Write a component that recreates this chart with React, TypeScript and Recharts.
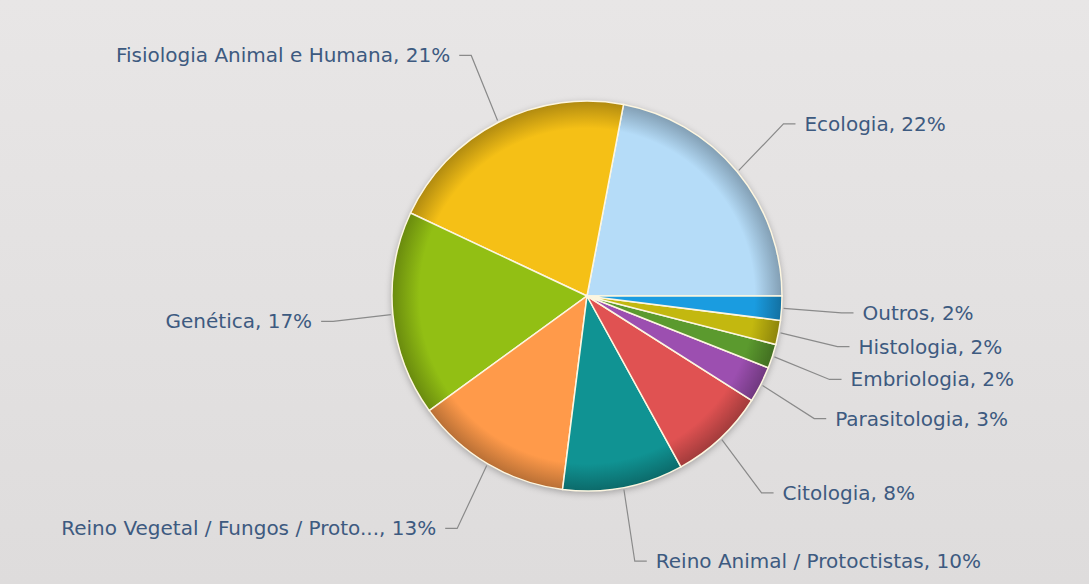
import React from "react";
import { PieChart, Pie, Cell } from "recharts";

const subjects = [
  "Ecologia",
  "Fisiologia Animal e Humana",
  "Genética",
  "Reino Vegetal / Fungos / Proto...",
  "Reino Animal / Protoctistas",
  "Citologia",
  "Parasitologia",
  "Embriologia",
  "Histologia",
  "Outros",
];

const shares = [22, 21, 17, 13, 10, 8, 3, 2, 2, 2];

const sliceColors = [
  "#b5dcf8",
  "#f5c016",
  "#92bf14",
  "#ff9a4a",
  "#109393",
  "#e05252",
  "#9c4fb0",
  "#5b9a2e",
  "#c3b80f",
  "#1a9ce0",
];

const data = subjects.map((name, i) => ({ name, value: shares[i] }));

const W = 1089;
const H = 584;
const CX = 587;
const CY = 296;
const R = 195;
const RAD = Math.PI / 180;

// darken a hex colour by a factor
function shade(hex: string, f: number) {
  const n = parseInt(hex.slice(1), 16);
  const r = Math.round(((n >> 16) & 255) * f);
  const g = Math.round(((n >> 8) & 255) * f);
  const b = Math.round((n & 255) * f);
  return `rgb(${r},${g},${b})`;
}

const renderLabel = (props: any) => {
  const { cx, cy, midAngle, outerRadius, name, value } = props;
  const cos = Math.cos(-midAngle * RAD);
  const sin = Math.sin(-midAngle * RAD);
  const sx = cx + (outerRadius + 2) * cos;
  const sy = cy + (outerRadius + 2) * sin;
  const ex = cx + (outerRadius + 60) * cos;
  const ey = cy + (outerRadius + 75) * sin;
  const right = cos >= 0;
  const tx = ex + (right ? 12 : -12);
  return (
    <g>
      <polyline
        points={`${sx},${sy} ${ex},${ey} ${tx},${ey}`}
        fill="none"
        stroke="#8a8a8a"
        strokeWidth={1.2}
      />
      <text
        x={tx + (right ? 9 : -9)}
        y={ey}
        textAnchor={right ? "start" : "end"}
        dominantBaseline="central"
        fill="#3d5a80"
        fontSize={20}
        fontFamily="DejaVu Sans, sans-serif"
      >
        {`${name}, ${value}%`}
      </text>
    </g>
  );
};

export default function App() {
  return (
    <div
      style={{
        position: "absolute",
        left: 0,
        top: 0,
        width: W,
        height: H,
        background: "linear-gradient(#e8e6e6, #dedcdc)",
      }}
    >
      <style>{`.recharts-pie > g:first-child { filter: drop-shadow(0 2px 3px rgba(0,0,0,0.25)); }`}</style>
      <PieChart width={W} height={H} margin={{ top: 0, right: 0, bottom: 0, left: 0 }}>
        <defs>
          {sliceColors.map((c, i) => (
            <radialGradient
              key={i}
              id={`sl${i}`}
              gradientUnits="userSpaceOnUse"
              cx={CX}
              cy={CY}
              r={R}
            >
              <stop offset="0%" stopColor={c} />
              <stop offset="86%" stopColor={c} />
              <stop offset="100%" stopColor={shade(c, 0.72)} />
            </radialGradient>
          ))}
        </defs>
        <Pie
          data={data}
          dataKey="value"
          nameKey="name"
          cx={CX}
          cy={CY}
          outerRadius={R}
          startAngle={0}
          endAngle={360}
          stroke="#fdf6e0"
          strokeWidth={1.5}
          label={renderLabel}
          labelLine={false}
          isAnimationActive={false}
        >
          {data.map((_, i) => (
            <Cell key={i} fill={`url(#sl${i})`} />
          ))}
        </Pie>
      </PieChart>
    </div>
  );
}
